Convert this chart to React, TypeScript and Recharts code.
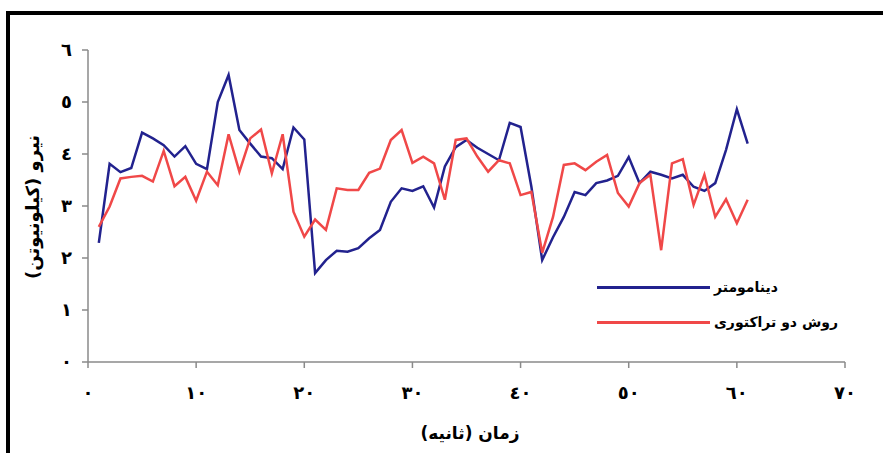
import { LineChart, Line, XAxis, YAxis } from "recharts";

const seconds = [
  1, 2, 3, 4, 5, 6, 7, 8, 9, 10, 11, 12, 13, 14, 15, 16, 17, 18, 19, 20,
  21, 22, 23, 24, 25, 26, 27, 28, 29, 30, 31, 32, 33, 34, 35, 36, 37, 38, 39, 40,
  41, 42, 43, 44, 45, 46, 47, 48, 49, 50, 51, 52, 53, 54, 55, 56, 57, 58, 59, 60, 61,
];

const dynamometer = [
  2.29, 3.81, 3.65, 3.73, 4.41, 4.3, 4.17, 3.95, 4.15, 3.81, 3.71, 5.0, 5.52, 4.46, 4.2, 3.95, 3.92, 3.71, 4.51, 4.28,
  1.71, 1.96, 2.14, 2.12, 2.19, 2.38, 2.54, 3.08, 3.34, 3.29, 3.38, 2.97, 3.76, 4.13, 4.27, 4.12, 4.0, 3.88, 4.6, 4.52,
  3.37, 1.96, 2.4, 2.79, 3.27, 3.21, 3.44, 3.49, 3.58, 3.94, 3.44, 3.66, 3.6, 3.53, 3.6, 3.37, 3.29, 3.44, 4.08, 4.86, 4.2,
];

const trajectory = [
  2.6, 2.99, 3.53, 3.56, 3.58, 3.47, 4.06, 3.38, 3.56, 3.1, 3.66, 3.4, 4.38, 3.66, 4.3, 4.47, 3.63, 4.38, 2.89, 2.41,
  2.74, 2.54, 3.34, 3.31, 3.31, 3.64, 3.72, 4.27, 4.46, 3.83, 3.95, 3.82, 3.12, 4.27, 4.3, 3.95, 3.66, 3.88, 3.82, 3.21,
  3.27, 2.1, 2.79, 3.79, 3.82, 3.69, 3.85, 3.98, 3.25, 2.99, 3.44, 3.6, 2.15, 3.82, 3.9, 3.02, 3.6, 2.79, 3.13, 2.67, 3.12,
];

const xTicks = [0, 10, 20, 30, 40, 50, 60, 70];
const xTickLabels = ["٠", "١٠", "٢٠", "٣٠", "٤٠", "٥٠", "٦٠", "٧٠"];
const yTicks = [0, 1, 2, 3, 4, 5, 6];
const yTickLabels = ["٠", "١", "٢", "٣", "٤", "٥", "٦"];

const seriesNames = ["دینامومتر", "روش دو تراکتوری"];
const xTitle = "زمان (ثانیه)";
const yTitle = "نیرو (کیلونیوتن)";

const BLUE = "#22228e";
const RED = "#f04848";
const FONT = "'DejaVu Sans', sans-serif";

const data = seconds.map((t, i) => ({ t, dyn: dynamometer[i], traj: trajectory[i] }));

const tickStyle = { fill: "#000", fontSize: 18, fontWeight: 700, fontFamily: FONT };

export default function App() {
  return (
    <div style={{ position: "absolute", left: 0, top: 0, width: 883, height: 453, overflow: "hidden", background: "#fff" }}>
      <div
        style={{
          position: "absolute",
          left: 6,
          top: 11,
          width: 920,
          height: 480,
          border: "4px solid #000",
        }}
      />
      <LineChart
        width={883}
        height={453}
        data={data}
        margin={{ top: 50, right: 38, bottom: 61, left: 28 }}
        style={{ position: "absolute", left: 0, top: 0 }}
      >
        <XAxis
          dataKey="t"
          type="number"
          domain={[0, 70]}
          ticks={xTicks}
          tickFormatter={(v) => xTickLabels[xTicks.indexOf(v)]}
          height={30}
          stroke="#8a8a8a"
          strokeWidth={1.5}
          tickSize={6}
          tickMargin={18}
          tick={tickStyle}
        />
        <YAxis
          type="number"
          domain={[0, 6]}
          ticks={yTicks}
          tickFormatter={(v) => yTickLabels[yTicks.indexOf(v)]}
          width={60}
          stroke="#8a8a8a"
          strokeWidth={1.5}
          tickSize={6}
          tickMargin={10}
          tick={tickStyle}
        />
        <Line dataKey="dyn" stroke={BLUE} strokeWidth={2.5} dot={false} isAnimationActive={false} />
        <Line dataKey="traj" stroke={RED} strokeWidth={2.5} dot={false} isAnimationActive={false} />
      </LineChart>

      <div
        style={{
          position: "absolute",
          left: 32,
          top: 207,
          transform: "translate(-50%, -50%) rotate(-90deg)",
          whiteSpace: "nowrap",
          fontFamily: FONT,
          fontWeight: 700,
          fontSize: 18,
          direction: "rtl",
        }}
      >
        {yTitle}
      </div>
      <div
        style={{
          position: "absolute",
          left: 470,
          top: 433,
          transform: "translate(-50%, -50%)",
          whiteSpace: "nowrap",
          fontFamily: FONT,
          fontWeight: 700,
          fontSize: 17,
          direction: "rtl",
        }}
      >
        {xTitle}
      </div>

      {seriesNames.map((name, i) => (
        <div
          key={name}
          style={{
            position: "absolute",
            left: 597,
            top: i === 0 ? 278 : 313,
            height: 18,
            display: "flex",
            alignItems: "center",
            fontFamily: FONT,
            fontWeight: 700,
            fontSize: 14,
            whiteSpace: "nowrap",
          }}
        >
          <span style={{ display: "inline-block", width: 113, height: 3, background: i === 0 ? BLUE : RED, marginRight: 4 }} />
          <span style={{ direction: "rtl" }}>{name}</span>
        </div>
      ))}
    </div>
  );
}
